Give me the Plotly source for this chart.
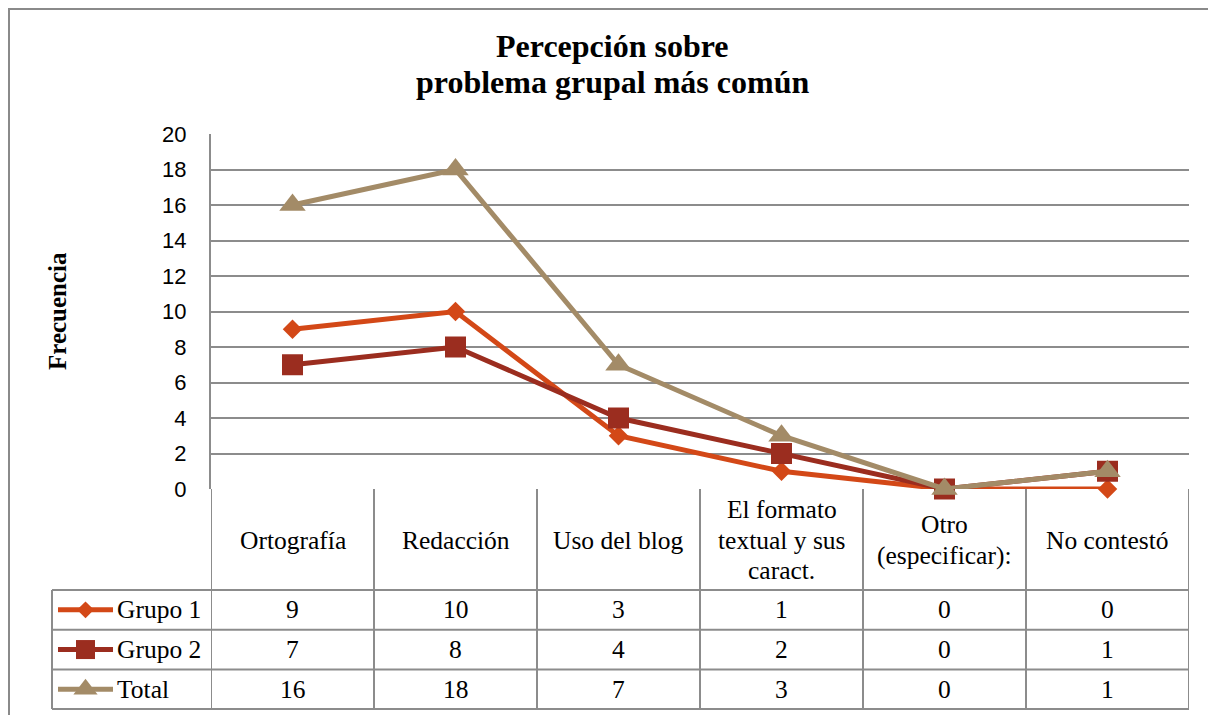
import plotly.graph_objects as go

# ---------------- data ----------------
categories = ["Ortografía", "Redacción", "Uso del blog",
              "El formato textual y sus caract.", "Otro (especificar):", "No contestó"]
category_lines = [["Ortografía"], ["Redacción"], ["Uso del blog"],
                  ["El formato", "textual y sus", "caract."],
                  ["Otro", "(especificar):"], ["No contestó"]]
title_lines = ["Percepción sobre", "problema grupal más común"]
series_names = ["Grupo 1", "Grupo 2", "Total"]
grupo1 = [9, 10, 3, 1, 0, 0]
grupo2 = [7, 8, 4, 2, 0, 1]
total = [16, 18, 7, 3, 0, 1]
y_ticks = list(range(0, 21, 2))

# ---------------- styles ----------------
W, H = 1216, 715
OFF = 8  # page offset of the figure inside the browser
colors = ["#D34817", "#9B2D1F", "#A38B67"]
symbols = ["diamond", "square", "triangle-up"]
msizes = [15, 21, 23]
GRID = "#8C8C8C"
SERIF = "Liberation Serif"
SANS = "Liberation Sans"
TXT = 25.5

PL, PR, PT, PB = 211, 1189, 134, 489   # plot area in screen px
TBL_LEFT = 52
HEADER_BOTTOM = 590
HEADER_MID = 540
HEADER_LINE = 30.5
ROW_H = 39.7
TBL_BOTTOM = HEADER_BOTTOM + 3 * ROW_H


def px(x):
    return (x - OFF) / W


def py(y):
    return 1 - (y - OFF) / H


values = [grupo1, grupo2, total]
xs = list(range(len(categories)))

fig = go.Figure()
for name, vals, c, s, ms in zip(series_names, values, colors, symbols, msizes):
    fig.add_trace(go.Scatter(
        x=xs, y=vals, name=name, mode="lines+markers",
        line=dict(color=c, width=5),
        marker=dict(symbol=s, size=ms, color=c, line=dict(width=0)),
        showlegend=False, cliponaxis=False, xaxis="x", yaxis="y"))

# legend keys inside the table (overlay pixel axes)
for i, (name, c, s, ms) in enumerate(zip(series_names, colors, symbols, msizes)):
    yc = HEADER_BOTTOM + (i + 0.5) * ROW_H
    fig.add_trace(go.Scatter(
        x=[58, 113], y=[yc, yc], mode="lines", line=dict(color=c, width=5),
        showlegend=False, hoverinfo="skip", xaxis="x2", yaxis="y2"))
    fig.add_trace(go.Scatter(
        x=[85.5], y=[yc], mode="markers",
        marker=dict(symbol=s, size=ms - 2, color=c, line=dict(width=0)),
        showlegend=False, hoverinfo="skip", xaxis="x2", yaxis="y2"))

shapes = []
# outer frame
shapes.append(dict(type="rect", xref="paper", yref="paper",
                   x0=px(9), x1=px(W + 20), y0=py(9), y1=py(H + 20),
                   line=dict(color="#8A8A8A", width=2)))
# table vertical lines
for k in range(len(categories) + 1):
    shapes.append(dict(type="line", xref="x", yref="paper",
                       x0=k - 0.5, x1=k - 0.5, y0=py(PB), y1=py(TBL_BOTTOM),
                       line=dict(color=GRID, width=2)))
shapes.append(dict(type="line", xref="paper", yref="paper",
                   x0=px(TBL_LEFT), x1=px(TBL_LEFT), y0=py(HEADER_BOTTOM), y1=py(TBL_BOTTOM),
                   line=dict(color=GRID, width=2)))
# table horizontal lines
for r in range(4):
    yy = HEADER_BOTTOM + r * ROW_H
    shapes.append(dict(type="line", xref="paper", yref="paper",
                       x0=px(TBL_LEFT), x1=px(PR), y0=py(yy), y1=py(yy),
                       line=dict(color=GRID, width=2)))

annotations = []
# title (two lines)
for yy, t in zip([46, 81.5], title_lines):
    annotations.append(dict(text="<b>" + t + "</b>",
                            xref="paper", yref="paper", x=px(612), y=py(yy),
                            xanchor="center", yanchor="middle", showarrow=False,
                            font=dict(family=SERIF, size=32, color="black")))
# y-axis title
annotations.append(dict(text="<b>Frecuencia</b>", textangle=-90,
                        xref="paper", yref="paper", x=px(58), y=py(311),
                        xanchor="center", yanchor="middle", showarrow=False,
                        font=dict(family=SERIF, size=25, color="black")))
# header labels
for i, lines in enumerate(category_lines):
    n = len(lines)
    for j, t in enumerate(lines):
        yy = HEADER_MID + (j - (n - 1) / 2) * HEADER_LINE
        annotations.append(dict(text=t, xref="x", yref="paper", x=i, y=py(yy),
                                xanchor="center", yanchor="middle", showarrow=False,
                                font=dict(family=SERIF, size=TXT, color="black")))
# row labels and values
for r, (name, vals) in enumerate(zip(series_names, values)):
    yc = HEADER_BOTTOM + (r + 0.5) * ROW_H
    annotations.append(dict(text=name, xref="paper", yref="paper", x=px(115), y=py(yc),
                            xanchor="left", yanchor="middle", showarrow=False,
                            font=dict(family=SERIF, size=TXT, color="black")))
    for i, v in enumerate(vals):
        annotations.append(dict(text=str(v), xref="x", yref="paper", x=i, y=py(yc),
                                xanchor="center", yanchor="middle", showarrow=False,
                                font=dict(family=SERIF, size=TXT, color="black")))

fig.update_layout(
    width=W, height=H, margin=dict(l=0, r=0, t=0, b=0, pad=0, autoexpand=False),
    paper_bgcolor="white", plot_bgcolor="rgba(0,0,0,0)",
    xaxis=dict(domain=[px(PL), px(PR)], range=[-0.5, len(categories) - 0.5],
               showgrid=False, zeroline=False, showticklabels=False, ticks="",
               showline=False, fixedrange=True, automargin=False),
    yaxis=dict(domain=[py(PB), py(PT)], range=[0, 20], tickvals=y_ticks,
               showgrid=True, gridcolor=GRID, gridwidth=2, zeroline=False,
               showline=True, linecolor=GRID, linewidth=2, ticks="",
               ticklabelstandoff=18, automargin=False,
               tickfont=dict(family=SANS, size=22, color="black"), fixedrange=True),
    xaxis2=dict(domain=[0, 1], range=[OFF, W + OFF], visible=False, anchor="y2",
                fixedrange=True, automargin=False),
    yaxis2=dict(domain=[0, 1], range=[H + OFF, OFF], visible=False, anchor="x2",
                fixedrange=True, automargin=False),
    shapes=shapes, annotations=annotations,
)

fig.write_html("out.html")
